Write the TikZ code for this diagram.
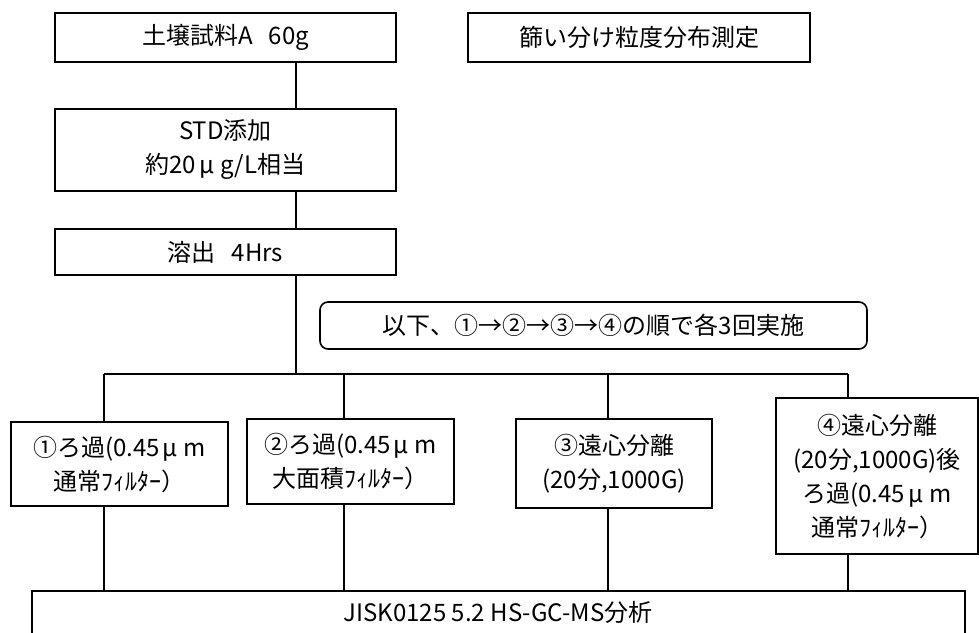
\documentclass[tikz,border=0pt]{standalone}
\usepackage{fontspec}
\setmainfont{Noto Sans CJK JP}
\newcommand{\mumark}{\kern0.12em μ\kern0.25em}
\begin{document}
\begin{tikzpicture}[x=1pt,y=-1pt,
  box/.style={draw,line width=1.6pt,align=center,inner sep=0pt,font=\fontsize{24}{34}\selectfont},
  conn/.style={line width=1.6pt}]
\useasboundingbox (0,0) rectangle (979,632);
\clip (0,0) rectangle (979,632);
\node[box,minimum width=341,minimum height=49] (b1) at (225.5,37.5) {土壌試料A\ \ \ 60g};
\node[box,minimum width=342,minimum height=49] (sv) at (639,37.5) {篩い分け粒度分布測定};
\node[box,minimum width=341,minimum height=82] (b2) at (225.5,150) {STD添加\\約20\mumark g/L相当};
\node[box,minimum width=341,minimum height=46] (b3) at (225.5,252) {溶出\ \ \ 4Hrs};
\node[box,rounded corners=8pt,minimum width=547,minimum height=47] (nt) at (593.5,325.5) {以下、①→②→③→④の順で各3回実施};
\node[box,minimum width=217,minimum height=84] (n1) at (119.5,464) {①ろ過(0.45\mumark m\\通常ﾌｨﾙﾀｰ）};
\node[box,minimum width=207,minimum height=85] (n2) at (350.5,461.5) {②ろ過(0.45\mumark m\\大面積ﾌｨﾙﾀｰ）};
\node[box,minimum width=196,minimum height=89] (n3) at (614,463.5) {③遠心分離\\(20分,1000G)};
\node[box,minimum width=202,minimum height=156] (n4) at (877,476) {④遠心分離\\(20分,1000G)後\\ろ過(0.45\mumark m\\通常ﾌｨﾙﾀｰ）};
\node[draw,line width=1.6pt,minimum width=933,minimum height=60,anchor=north] (bt) at (498.5,590) {};
\node[font=\fontsize{24}{34}\selectfont,anchor=center] (btt) at (498,612) {JISK0125 5.2 HS-GC-MS分析};
\coordinate (tr) at (296,0);
\coordinate (bus) at (0,374);
\coordinate (c1) at (104,0);
\coordinate (c2) at (344,0);
\coordinate (c3) at (608,0);
\coordinate (c4) at (848,0);
\draw[conn] (b1.south -| tr) -- (b2.north -| tr);
\draw[conn] (b2.south -| tr) -- (b3.north -| tr);
\draw[conn] (b3.south -| tr) -- (tr |- bus);
\draw[conn] (c1 |- bus) -- (c4 |- bus);
\draw[conn] (c1 |- bus) -- (c1 |- n1.north);
\draw[conn] (c2 |- bus) -- (c2 |- n2.north);
\draw[conn] (c3 |- bus) -- (c3 |- n3.north);
\draw[conn] (c4 |- bus) -- (c4 |- n4.north);
\draw[conn] (c1 |- n1.south) -- (c1 |- bt.north);
\draw[conn] (c2 |- n2.south) -- (c2 |- bt.north);
\draw[conn] (c3 |- n3.south) -- (c3 |- bt.north);
\draw[conn] (c4 |- n4.south) -- (c4 |- bt.north);
\end{tikzpicture}
\end{document}
